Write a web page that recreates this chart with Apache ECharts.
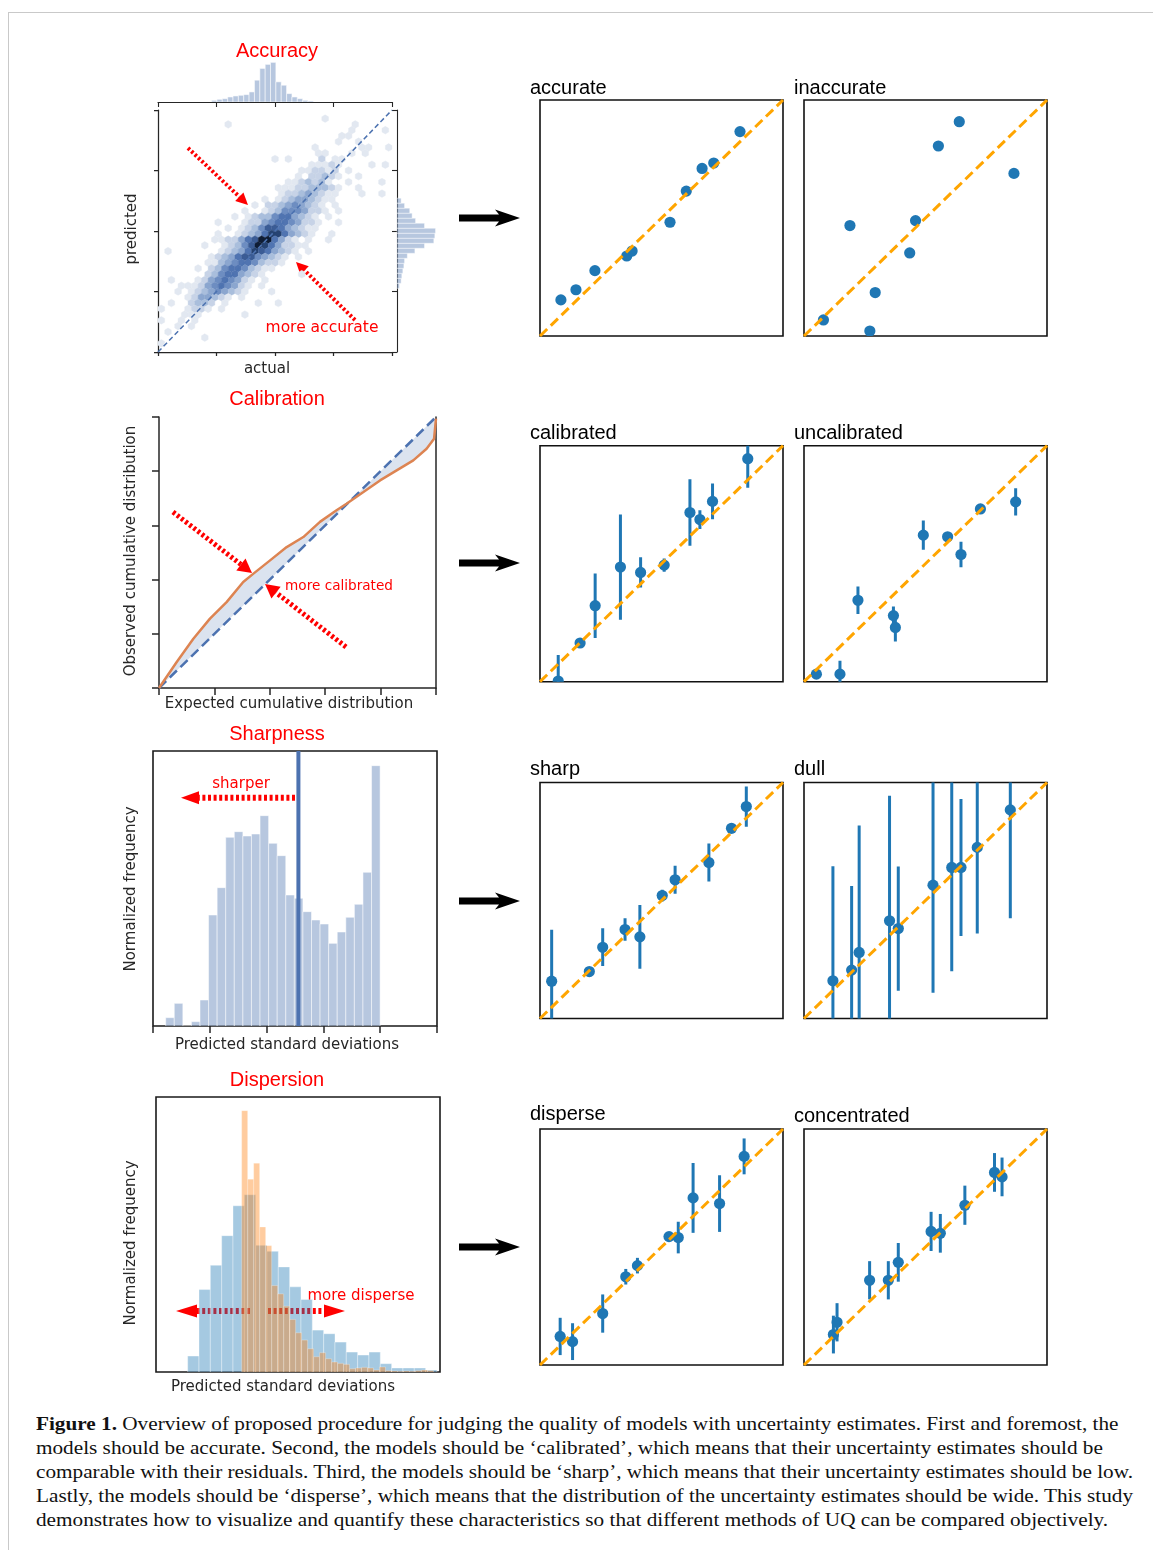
<!DOCTYPE html>
<html>
<head>
<meta charset="utf-8">
<title>Figure 1 – judging models with uncertainty estimates</title>
<script src="https://cdn.jsdelivr.net/npm/echarts@6.0.0/dist/echarts.min.js"></script>
<style>
  html, body { margin:0; padding:0; background:#fff; width:1153px; height:1550px; overflow:hidden; }
  #frame { position:absolute; left:8px; top:12px; width:1200px; height:1600px; border-top:1px solid #c9c9c9; border-left:1px solid #c9c9c9; }
  #chart { position:absolute; left:0; top:0; width:1153px; height:1400px; }
  #caption { position:absolute; left:36px; top:1412px; font-family:"Liberation Serif","Times New Roman",serif; font-size:19.5px; line-height:24.1px; color:#111; white-space:nowrap; transform:scaleX(1.0885); transform-origin:0 0; }
</style>
</head>
<body>
<div id="frame"></div>
<div id="chart"></div>
<div id="caption"><b>Figure 1.</b> Overview of proposed procedure for judging the quality of models with uncertainty estimates. First and foremost, the<br>models should be accurate. Second, the models should be ‘calibrated’, which means that their uncertainty estimates should be<br>comparable with their residuals. Third, the models should be ‘sharp’, which means that their uncertainty estimates should be low.<br>Lastly, the models should be ‘disperse’, which means that the distribution of the uncertainty estimates should be wide. This study<br>demonstrates how to visualize and quantify these characteristics so that different methods of UQ can be compared objectively.</div>
<script>
// ====================== DATA ======================

// Accuracy: hexbin density level per hex (0/'.' = empty, 1 light ... 9 darkest).
// Rows listed from top to bottom, 35 hexes per row (odd rows are offset by half a hex).
const hexRows = [
  "..... ..... ..... ..... ..... ..... .....",
  "..... ..... ..... ..... ....1 ..... .....",
  "..... ..... 1.... ..... ..... ....1 .....",
  "..... ..... ..... ..... ..... ...1. ...1.",
  "..... ..... ..... ..... ..... ..11. .....",
  "..... ..... ..... ..... ..... .1..1 .....",
  "..... ..... ..... ..... ...1. ..... 11..1",
  "..... ..... ..... ..... ...11 ...1. 1....",
  "..... ..... ..... ..1.1 ....2 .11.. .....",
  "..... ..... ..... ..... ..111 21... .1.1.",
  "..... ..... ..... ..... .1122 12.1. .....",
  "..... ..... ..... ..... 1.223 21..1 .....",
  "..... ..... ..... ....1 12323 1..1. ...1.",
  "..... ..... ..... ..111 22333 21..1 .....",
  "..... ..... ..... ...12 23432 11... 1..1.",
  "..... ..... ..... 1.123 44321 1.... .....",
  "..... ..... ....1 .2234 54321 .1... .....",
  "..... ..... ..1.. 12355 54221 .1... .....",
  "..... ..... .1.12 33566 4321. 1.... .....",
  "..... ...1. ..122 45665 4221. .1... .....",
  "..... ..... 1.123 57764 3211. ..... .....",
  "..... ...1. .1234 68864 321.. 1.... .....",
  "..... ...11 22467 99642 1.1.. 1.... .....",
  "..... .1..1 23579 86422 11... ..... .....",
  ".1... ....1 23468 76432 1.1.. ..... .....",
  "..... ..123 46775 4321. 1.... ..... .....",
  "..... ..113 45665 3221. ..... ..... .....",
  "..... 1.235 66532 11... ..... ..... .....",
  "..... ..235 66432 1.... .1... ..... .....",
  ".1... 12456 5421. 1.... ..... ..... .....",
  "...11 12456 5421. 1.... ..... ..... .....",
  "..1.1 23454 321.. .1... ..... ..... .....",
  "....1 24432 1.1.. ..... ..... ..... .....",
  ".1..2 332.1 ....1 ..1.. ..... ..... .....",
  "1...1 221.1 ..... ..... ..... ..... .....",
  "...11 1.... ..1.. ..... ..... ..... .....",
  "1..1. 1.... ..... ..... ..... ..... .....",
  "..1.1 ..... ..... ..... ..... ..... .....",
  ".1... ..... ..... ..... ..... ..... .....",
  "..... .1... ..... ..... ..... ..... .....",
  "1.... ..... ..... ..... ..... ..... .....",
  "..... ..... ..... ..... ..... ..... ....."
];
const hexColumns = 35;
const hexLevelColors = ['#e2e8f1','#c7d3e7','#a9bedc','#8ba6cf','#6d8dc1','#5074b1','#3b5c95','#264372','#0f1d35'];

// Accuracy marginal histograms (counts per bin; bins given in the main plot's 0..1 units)
const accTopBinStart = 0.229, accTopBinWidth = 0.0229;
const accTopCounts = [5, 8, 10, 15, 18, 20, 22, 30, 65, 100, 112, 118, 60, 50, 25, 15, 10, 5, 3];
const accRightBinStart = 0.263, accRightBinWidth = 0.0207;
const accRightCounts = [7, 12, 14, 17, 20, 22, 30, 52, 80, 107, 110, 112, 80, 54, 44, 37, 22, 12];

// Calibration curve
const calExpected = [0, 0.064, 0.124, 0.184, 0.244, 0.304, 0.341, 0.401, 0.461, 0.521, 0.581, 0.641, 0.677, 0.738, 0.798, 0.858, 0.918, 0.966, 0.993, 1.0];
const calObserved = [0, 0.096, 0.182, 0.256, 0.317, 0.391, 0.422, 0.471, 0.520, 0.557, 0.613, 0.656, 0.680, 0.723, 0.766, 0.803, 0.840, 0.883, 0.920, 0.994];

// Sharpness histogram of predicted standard deviations
const sharpBinStart = 0.2235, sharpBinWidth = 0.151;
const sharpCounts = [0.25, 0.68, 0, 0.13, 0.78, 3.33, 4.15, 5.66, 5.83, 5.70, 5.76, 6.31, 5.48, 5.11, 3.93, 3.83, 3.43, 3.18, 3.06, 2.48, 2.82, 3.26, 3.65, 4.61, 7.81];
const sharpMeanStd = 2.56;

// Dispersion histograms (blue = disperse model, orange = concentrated model)
const dispBlueStart = 1.115, dispBlueWidth = 0.399;
const dispBlueCounts = [0.48, 2.48, 3.21, 4.10, 5.00, 5.33, 3.81, 3.63, 3.16, 2.56, 2.18, 1.26, 1.15, 0.90, 0.60, 0.51, 0.60, 0.25, 0.12, 0.12, 0.12, 0.06];
const dispOrangeStart = 3.017, dispOrangeWidth = 0.211;
const dispOrangeCounts = [7.86, 5.80, 6.28, 4.36, 3.80, 2.60, 2.35, 1.98, 1.58, 1.18, 0.96, 0.70, 0.46, 0.58, 0.40, 0.30, 0.26, 0.23, 0.10, 0.12, 0.14, 0.12, 0.06, 0.15, 0.04, 0.03, 0.02, 0.03, 0.02, 0.04, 0.06, 0.04];

// Example panels: actual (x), predicted (y), uncertainty (error bar half-length)
const accurateX = [0.086, 0.148, 0.226, 0.357, 0.379, 0.535, 0.602, 0.667, 0.715, 0.823];
const accurateY = [0.153, 0.196, 0.277, 0.339, 0.360, 0.482, 0.614, 0.710, 0.733, 0.866];
const inaccurateX = [0.080, 0.189, 0.271, 0.293, 0.435, 0.459, 0.553, 0.639, 0.864];
const inaccurateY = [0.068, 0.468, 0.021, 0.184, 0.352, 0.489, 0.805, 0.908, 0.689];

const calibratedX = [0.075, 0.165, 0.227, 0.331, 0.414, 0.511, 0.617, 0.658, 0.710, 0.855];
const calibratedY = [0.003, 0.164, 0.322, 0.486, 0.463, 0.494, 0.717, 0.687, 0.764, 0.945];
const calibratedErr = [0.110, 0.010, 0.137, 0.223, 0.064, 0.028, 0.141, 0.040, 0.076, 0.123];
const uncalibratedX = [0.051, 0.148, 0.222, 0.368, 0.376, 0.491, 0.591, 0.646, 0.726, 0.871];
const uncalibratedY = [0.032, 0.032, 0.345, 0.280, 0.230, 0.621, 0.614, 0.539, 0.732, 0.762];
const uncalibratedErr = [0, 0.057, 0.058, 0.039, 0.060, 0.062, 0, 0.054, 0, 0.058];

const sharpX = [0.048, 0.203, 0.258, 0.350, 0.411, 0.503, 0.556, 0.695, 0.788, 0.849];
const sharpY = [0.158, 0.199, 0.302, 0.377, 0.346, 0.521, 0.588, 0.661, 0.806, 0.898];
const sharpErr = [0.218, 0.010, 0.080, 0.048, 0.135, 0.025, 0.059, 0.080, 0, 0.085];
const dullX = [0.119, 0.196, 0.227, 0.352, 0.388, 0.531, 0.608, 0.646, 0.713, 0.849];
const dullY = [0.160, 0.205, 0.280, 0.414, 0.381, 0.565, 0.640, 0.640, 0.725, 0.884];
const dullErr = [0.485, 0.356, 0.538, 0.530, 0.263, 0.456, 0.440, 0.290, 0.365, 0.459];

const disperseX = [0.083, 0.134, 0.258, 0.353, 0.401, 0.531, 0.569, 0.630, 0.739, 0.840];
const disperseY = [0.121, 0.099, 0.218, 0.374, 0.421, 0.544, 0.540, 0.708, 0.684, 0.884];
const disperseErr = [0.079, 0.078, 0.081, 0.033, 0.033, 0, 0.067, 0.148, 0.120, 0.076];
const concentratedX = [0.121, 0.136, 0.270, 0.347, 0.388, 0.523, 0.561, 0.662, 0.784, 0.815];
const concentratedY = [0.129, 0.181, 0.359, 0.359, 0.435, 0.566, 0.558, 0.677, 0.816, 0.797];
const concentratedErr = [0.080, 0.081, 0.081, 0.081, 0.082, 0.083, 0.082, 0.083, 0.082, 0.082];

// ====================== LAYOUT & DRAWING ======================
const INK = '#262626';
const grids = [], xAxes = [], yAxes = [], series = [], gfx = [];

function addGrid(left, top, width, height, box) {
  const g = { left, top, width, height, containLabel: false, outerBoundsMode: 'none', show: !!box };
  if (box) { g.borderColor = box.color; g.borderWidth = box.width; g.backgroundColor = 'transparent'; }
  grids.push(g); return grids.length - 1;
}
function hiddenAxis(gi, min, max) {
  return { gridIndex: gi, type: 'value', min, max, show: false, splitLine: { show: false }, axisLabel: { show: false } };
}
function tickAxis(gi, min, max, interval, o) {
  return { gridIndex: gi, type: 'value', min, max, interval, show: true, position: o.position,
    axisLine: { show: o.line !== false, onZero: false, lineStyle: { color: INK, width: o.lw || 1.25 } },
    axisTick: { show: o.ticks !== false, inside: false, length: o.tl || 5, lineStyle: { color: INK, width: o.lw || 1.25 } },
    axisLabel: { show: false }, splitLine: { show: false }, splitArea: { show: false } };
}
function addX(a) { xAxes.push(a); return xAxes.length - 1; }
function addY(a) { yAxes.push(a); return yAxes.length - 1; }

function histSeries(xi, yi, start, width, counts, fill, stroke, z) {
  return { type: 'custom', xAxisIndex: xi, yAxisIndex: yi, silent: true, z: z || 2, clip: true,
    data: counts.map((c, k) => [start + k * width, start + (k + 1) * width, c]),
    renderItem: (p, api) => {
      const a = api.coord([api.value(0), api.value(2)]);
      const b = api.coord([api.value(1), 0]);
      return { type: 'rect', shape: { x: a[0], y: a[1], width: b[0] - a[0], height: b[1] - a[1] },
        style: { fill, stroke, lineWidth: 1 } };
    } };
}
function histSeriesH(xi, yi, start, width, counts, fill, stroke) {
  return { type: 'custom', xAxisIndex: xi, yAxisIndex: yi, silent: true, z: 2,
    data: counts.map((c, k) => [start + k * width, start + (k + 1) * width, c]),
    renderItem: (p, api) => {
      const a = api.coord([api.value(2), api.value(1)]);
      const b = api.coord([0, api.value(0)]);
      return { type: 'rect', shape: { x: b[0], y: a[1], width: a[0] - b[0], height: b[1] - a[1] },
        style: { fill, stroke, lineWidth: 0.8 } };
    } };
}
function lineSeries(xi, yi, pts, color, width, dash, z) {
  return { type: 'line', xAxisIndex: xi, yAxisIndex: yi, data: pts, symbol: 'none', silent: true, z: z || 5,
    lineStyle: { color, width, type: dash || 'solid', cap: 'butt' }, clip: true, animation: false };
}

// ---------- Accuracy (hexbin joint plot) ----------
const gHex = addGrid(158, 110, 234, 242);
const xHex = addX(tickAxis(gHex, 0, 1, 0.25, { position: 'bottom', tl: 4 }));
const yHex = addY(tickAxis(gHex, 0, 1, 0.25, { position: 'left', tl: 4 }));
const hexCells = [];
hexRows.forEach((row, i) => {
  const s = row.replace(/ /g, '');
  for (let j = 0; j < s.length; j++) {
    if (s[j] !== '.') hexCells.push([(j + 0.5 + (i % 2 ? 0.5 : 0)) / hexColumns, 1 - (i + 0.5) / hexRows.length, +s[j]]);
  }
});
const hexHalfW = 0.5 / hexColumns, hexTip = (2 / hexRows.length) / 3, hexSide = (2 / hexRows.length) / 6;
series.push({ type: 'custom', xAxisIndex: xHex, yAxisIndex: yHex, silent: true, z: 2, data: hexCells,
  renderItem: (p, api) => {
    const u = api.value(0), v = api.value(1), c = hexLevelColors[api.value(2) - 1];
    const pts = [[u, v + hexTip], [u + hexHalfW, v + hexSide], [u + hexHalfW, v - hexSide], [u, v - hexTip], [u - hexHalfW, v - hexSide], [u - hexHalfW, v + hexSide]].map(q => api.coord(q));
    return { type: 'polygon', shape: { points: pts }, style: { fill: c, stroke: c, lineWidth: 0.4 } };
  } });
series.push(lineSeries(xHex, yHex, [[0, 0], [1, 1]], '#4c72b0', 1.5, [5, 3], 6));

const gTop = addGrid(158, 60, 234, 42);
const xTop = addX(tickAxis(gTop, 0, 1, 0.25, { position: 'bottom', tl: 5, lw: 1.1 }));
const yTop = addY(hiddenAxis(gTop, 0, 125));
series.push(histSeries(xTop, yTop, accTopBinStart, accTopBinWidth, accTopCounts, 'rgba(76,114,176,0.4)', 'rgba(255,255,255,0.55)'));

const gRight = addGrid(397, 110, 43, 242);
const xRight = addX(hiddenAxis(gRight, 0, 125));
const yRight = addY(tickAxis(gRight, 0, 1, 0.25, { position: 'left', tl: 5, lw: 1.1 }));
series.push(histSeriesH(xRight, yRight, accRightBinStart, accRightBinWidth, accRightCounts, 'rgba(76,114,176,0.4)', 'rgba(255,255,255,0.55)'));

// ---------- Calibration ----------
const gCal = addGrid(159, 417, 277, 271);
const xCal = addX(tickAxis(gCal, 0, 1, 0.2, { position: 'bottom', tl: 7, lw: 1.5 }));
const yCal = addY(tickAxis(gCal, 0, 1, 0.2, { position: 'left', tl: 7, lw: 1.5 }));
addY(tickAxis(gCal, 0, 1, 0.2, { position: 'right', ticks: false, lw: 1.5 }));
const calPts = calExpected.map((x, i) => [x, calObserved[i]]);
series.push({ type: 'custom', xAxisIndex: xCal, yAxisIndex: yCal, silent: true, z: 2, data: [[0, 0]],
  renderItem: (p, api) => {
    const pts = calPts.concat([[1, 1], [0, 0]]).map(q => api.coord(q));
    return { type: 'polygon', shape: { points: pts }, style: { fill: 'rgba(76,114,176,0.2)' } };
  } });
series.push(lineSeries(xCal, yCal, [[0, 0], [1, 1]], '#4c72b0', 2.5, [10, 5], 4));
series.push(lineSeries(xCal, yCal, calPts, '#dd8452', 2.5, 'solid', 5));

// ---------- Sharpness ----------
const gSharp = addGrid(153, 751, 284, 275, { color: '#1a1a1a', width: 1.6 });
const xSharp = addX(tickAxis(gSharp, 0, 5, 1, { position: 'bottom', line: false, tl: 7, lw: 1.5 }));
const ySharp = addY(hiddenAxis(gSharp, 0, 8.25));
series.push(histSeries(xSharp, ySharp, sharpBinStart, sharpBinWidth, sharpCounts, 'rgba(76,114,176,0.4)', 'rgba(255,255,255,0.5)'));
series.push(lineSeries(xSharp, ySharp, [[sharpMeanStd, 0], [sharpMeanStd, 8.25]], '#4c72b0', 4, 'solid', 5));

// ---------- Dispersion ----------
const gDisp = addGrid(156, 1097, 284, 275, { color: '#1a1a1a', width: 1.6 });
const xDisp = addX(hiddenAxis(gDisp, 0, 10));
const yDisp = addY(hiddenAxis(gDisp, 0, 8.27));
series.push(histSeries(xDisp, yDisp, dispBlueStart, dispBlueWidth, dispBlueCounts, 'rgba(31,119,180,0.4)', 'rgba(255,255,255,0.35)', 2));
series.push(histSeries(xDisp, yDisp, dispOrangeStart, dispOrangeWidth, dispOrangeCounts, 'rgba(255,127,14,0.4)', 'rgba(255,255,255,0.25)', 3));

// ---------- Example panels (x = actual, y = predicted) ----------
const panels = [
  { label: 'accurate', x: accurateX, y: accurateY, err: null, col: 0, row: 0 },
  { label: 'inaccurate', x: inaccurateX, y: inaccurateY, err: null, col: 1, row: 0 },
  { label: 'calibrated', x: calibratedX, y: calibratedY, err: calibratedErr, col: 0, row: 1 },
  { label: 'uncalibrated', x: uncalibratedX, y: uncalibratedY, err: uncalibratedErr, col: 1, row: 1 },
  { label: 'sharp', x: sharpX, y: sharpY, err: sharpErr, col: 0, row: 2 },
  { label: 'dull', x: dullX, y: dullY, err: dullErr, col: 1, row: 2 },
  { label: 'disperse', x: disperseX, y: disperseY, err: disperseErr, col: 0, row: 3 },
  { label: 'concentrated', x: concentratedX, y: concentratedY, err: concentratedErr, col: 1, row: 3 }
];
const panelLeft = [540, 804], panelTop = [100, 445.7, 782.5, 1129], panelW = 243, panelH = 236;
const labelMid = [[88, 88], [433, 433], [769, 769], [1114, 1116]];
panels.forEach(pn => {
  const gi = addGrid(panelLeft[pn.col], panelTop[pn.row], panelW, panelH, { color: '#111', width: 1.6 });
  const xi = addX(hiddenAxis(gi, 0, 1)), yi = addY(hiddenAxis(gi, 0, 1));
  series.push({ type: 'custom', xAxisIndex: xi, yAxisIndex: yi, silent: true, z: 3, clip: true,
    data: pn.x.map((v, i) => [v, pn.y[i], pn.err ? pn.err[i] : 0]),
    renderItem: (p, api) => {
      const x = api.value(0), y = api.value(1), e = api.value(2);
      const c = api.coord([x, y]);
      const children = [];
      if (e > 0) {
        const t = api.coord([x, y + e]), b = api.coord([x, y - e]);
        children.push({ type: 'line', shape: { x1: c[0], y1: t[1], x2: c[0], y2: b[1] }, style: { stroke: '#1f77b4', lineWidth: 3 } });
      }
      children.push({ type: 'circle', shape: { cx: c[0], cy: c[1], r: 5.6 }, style: { fill: '#1f77b4' } });
      return { type: 'group', children };
    } });
  series.push(lineSeries(xi, yi, [[0, 0], [1, 1]], '#ffa500', 3, [10, 5], 6));
  gfx.push({ type: 'text', x: panelLeft[pn.col] - 10, y: labelMid[pn.row][pn.col], silent: true,
    style: { text: pn.label, fill: '#000', font: '20px "Liberation Sans", Arial, sans-serif', align: 'left', verticalAlign: 'middle' } });
});

// ---------- Titles, axis labels, annotations ----------
function text(t, x, y, font, fill, rot) {
  const el = { type: 'text', x, y, silent: true, style: { text: t, fill, font, align: 'center', verticalAlign: 'middle' } };
  if (rot) el.rotation = rot;
  return el;
}
const titleFont = '20px "Liberation Sans", Arial, sans-serif';
const labFont = '15px "DejaVu Sans", Verdana, sans-serif';
gfx.push(text('Accuracy', 277, 51, titleFont, '#ff0000'));
gfx.push(text('Calibration', 277, 399, titleFont, '#ff0000'));
gfx.push(text('Sharpness', 277, 734, titleFont, '#ff0000'));
gfx.push(text('Dispersion', 277, 1080, titleFont, '#ff0000'));
gfx.push(text('predicted', 132, 229, labFont, INK, Math.PI / 2));
gfx.push(text('actual', 267, 369, labFont, INK));
gfx.push(text('Observed cumulative distribution', 131, 551, labFont, INK, Math.PI / 2));
gfx.push(text('Expected cumulative distribution', 289, 704, labFont, INK));
gfx.push(text('Normalized frequency', 131, 889, labFont, INK, Math.PI / 2));
gfx.push(text('Predicted standard deviations', 287, 1045, labFont, INK));
gfx.push(text('Normalized frequency', 131, 1243, labFont, INK, Math.PI / 2));
gfx.push(text('Predicted standard deviations', 283, 1387, labFont, INK));

const redFont = sz => sz + 'px "DejaVu Sans", Verdana, sans-serif';
gfx.push(text('more accurate', 322, 328, redFont(15.5), '#ff0000'));
gfx.push(text('more calibrated', 339, 586, redFont(13.6), '#ff0000'));
gfx.push(text('sharper', 241, 784, redFont(15), '#ff0000'));
gfx.push(text('more disperse', 361, 1296, redFont(15), '#ff0000'));

function dottedArrow(x1, y1, x2, y2, headLen, headHalf, lw, dash) {
  const a = Math.atan2(y2 - y1, x2 - x1);
  const bx = x2 - headLen * Math.cos(a), by = y2 - headLen * Math.sin(a);
  const px = -Math.sin(a), py = Math.cos(a);
  gfx.push({ type: 'line', silent: true, shape: { x1, y1, x2: bx, y2: by }, style: { stroke: '#ff0000', lineWidth: lw, lineDash: dash } });
  gfx.push({ type: 'polygon', silent: true, shape: { points: [[x2, y2], [bx + px * headHalf, by + py * headHalf], [bx - px * headHalf, by - py * headHalf]] }, style: { fill: '#ff0000' } });
}
dottedArrow(188, 148, 248, 205, 12, 6, 4, [2.5, 2.2]);
dottedArrow(355, 320, 296, 262, 12, 6, 4, [2.5, 2.2]);
dottedArrow(173, 512, 252, 573, 14, 7.5, 5, [2.8, 2.4]);
dottedArrow(346, 647, 265, 584, 14, 7.5, 5, [2.8, 2.4]);
dottedArrow(295, 797.7, 181, 797.7, 18, 6.5, 6, [3, 2.6]);
dottedArrow(250, 1311, 176, 1311, 21, 6.5, 6, [3, 2.6]);
dottedArrow(268, 1311, 345, 1311, 21, 6.5, 6, [3, 2.6]);

// Big black arrows between the overview plots and the examples
[218, 563, 901, 1247].forEach(y => {
  gfx.push({ type: 'polygon', silent: true, shape: { points: [[459, y - 3.5], [499, y - 3.5], [495, y - 8.5], [520, y], [495, y + 8.5], [499, y + 3.5], [459, y + 3.5]] }, style: { fill: '#000' } });
});

const chart = echarts.init(document.getElementById('chart'), null, { renderer: 'canvas' });
chart.setOption({
  animation: false,
  backgroundColor: 'transparent',
  grid: grids,
  xAxis: xAxes,
  yAxis: yAxes,
  series: series,
  graphic: { elements: gfx }
});
</script>
</body>
</html>
